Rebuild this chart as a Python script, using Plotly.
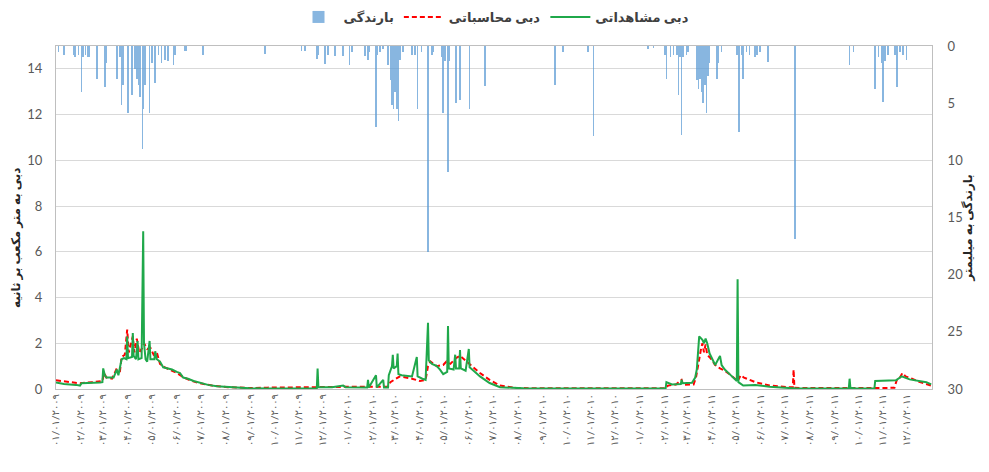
import pandas as pd
import plotly.graph_objects as go

# ---------------- data (day index counted from 2009-01-01) ----------------
obs_day = [0, 10, 25, 30, 32, 45, 55, 58, 59, 61, 63, 72, 76, 78, 82, 85, 88, 89, 90, 95, 96, 97,
           100, 102, 103, 107, 109, 110, 112, 114, 117, 118, 123, 124, 126, 130, 134, 140, 145, 151,
           155, 159, 165, 172, 180, 190, 201, 215, 226, 242, 264, 300, 326, 327, 328, 345, 359, 362,
           389, 390, 391, 400, 401, 409, 410, 415, 416, 420, 421, 422, 426, 427, 428, 432, 445, 451,
           452, 458, 462, 465, 466, 470, 476, 480, 484, 489, 490, 491, 497, 499, 500, 504, 505, 506,
           512, 516, 517, 522, 530, 542, 555, 584, 650, 762, 763, 770, 781, 782, 783, 795, 799, 801,
           804, 808, 810, 812, 814, 817, 824, 828, 830, 832, 836, 842, 851, 852, 853, 859, 874, 892,
           909, 926, 991, 992, 993, 1000, 1023, 1024, 1050, 1057, 1067, 1080, 1088, 1094]
obs_q = [0.28, 0.22, 0.18, 0.15, 0.25, 0.25, 0.28, 0.3, 0.9, 0.6, 0.5, 0.5, 0.85, 0.6, 1.3, 1.35, 1.3, 2.3, 1.35, 1.4, 2.45, 1.45,
         1.3, 2.1, 1.3, 1.35, 6.9, 2.0, 1.3, 1.2, 2.1, 1.3, 1.3, 1.65, 1.3, 1.2, 0.95, 0.9, 0.85, 0.75,
         0.7, 0.5, 0.45, 0.35, 0.27, 0.18, 0.12, 0.08, 0.06, 0.03, 0.02, 0.03, 0.03, 0.9, 0.08, 0.08, 0.15, 0.08,
         0.07, 0.4, 0.07, 0.6, 0.07, 0.4, 0.07, 0.07, 0.6, 1.0, 1.5, 0.9, 1.0, 1.55, 0.65, 0.6, 0.55, 1.4,
         0.55, 0.45, 0.4, 2.9, 1.25, 1.1, 1.0, 0.85, 0.65, 0.75, 2.75, 0.9, 0.85, 1.5, 0.9, 0.9, 1.7, 0.9,
         0.8, 1.75, 0.95, 0.8, 0.55, 0.26, 0.08, 0.03, 0.02, 0.02, 0.3, 0.2, 0.22, 0.4, 0.25, 0.27, 0.5, 0.85,
         2.3, 2.15, 2.0, 2.2, 2.0, 1.55, 1.05, 1.3, 1.45, 1.05, 0.85, 0.65, 0.35, 4.8, 0.3, 0.15, 0.17, 0.1,
         0.07, 0.02, 0.02, 0.45, 0.05, 0.02, 0.02, 0.35, 0.38, 0.55, 0.42, 0.35, 0.3, 0.2]

sim_day = [0, 15, 30, 45, 58, 60, 63, 70, 76, 80, 82, 86, 89, 91, 96, 98, 101, 104, 108, 110, 114,
           118, 122, 126, 130, 136, 142, 151, 160, 170, 180, 195, 215, 245, 264, 300, 327, 345, 380,
           415, 418, 425, 430, 445, 455, 462, 465, 468, 476, 484, 488, 493, 500, 505, 510, 516, 522,
           530, 542, 555, 575, 600, 762, 765, 775, 782, 784, 797, 800, 803, 806, 808, 810, 812, 814,
           818, 824, 830, 836, 842, 852, 856, 860, 874, 892, 915, 921, 922, 923, 940, 1024, 1048,
           1051, 1055, 1058, 1062, 1070, 1080, 1094]
sim_q = [0.38, 0.3, 0.25, 0.3, 0.35, 0.7, 0.5, 0.45, 0.9, 0.8, 1.4, 1.5, 2.6, 1.6, 2.3, 1.6, 2.2, 1.6, 1.8, 2.0, 1.75,
         1.8, 1.5, 1.6, 1.1, 0.95, 0.85, 0.7, 0.5, 0.35, 0.25, 0.15, 0.08, 0.04, 0.06, 0.08, 0.08, 0.1, 0.1,
         0.1, 0.3, 0.45, 0.55, 0.45, 0.35, 0.4, 1.0, 1.2, 1.0, 1.05, 1.2, 1.1, 1.35, 1.45, 1.3, 1.1, 0.9,
         0.7, 0.4, 0.15, 0.05, 0.03, 0.03, 0.15, 0.2, 0.4, 0.18, 0.2, 0.5, 1.2, 1.7, 2.0, 1.6, 1.95, 1.5,
         1.35, 1.05, 0.9, 0.8, 0.65, 0.35, 0.6, 0.5, 0.3, 0.15, 0.08, 0.08, 0.85, 0.05, 0.04, 0.04, 0.05,
         0.4, 0.5, 0.7, 0.55, 0.45, 0.3, 0.15]

rain_day = [3, 10, 22, 24, 28, 32, 34, 37, 40, 42, 51, 61, 63, 76, 80, 82, 84, 90, 95, 99, 101, 103, 105,
            108, 109, 111, 117, 120, 124, 128, 132, 136, 140, 147, 149, 161, 163, 184, 261, 307, 311,
            326, 328, 336, 340, 349, 359, 367, 370, 386, 390, 392, 400, 402, 405, 409, 415, 418, 420,
            422, 424, 426, 428, 430, 434, 445, 449, 452, 457, 465, 470, 472, 482, 484, 486, 490, 492,
            500, 505, 517, 536, 624, 634, 665, 672, 740, 747, 761, 763, 768, 772, 776, 778, 780, 782,
            784, 788, 790, 801, 803, 805, 807, 809, 811, 813, 815, 817, 826, 828, 832, 851, 853, 854,
            857, 859, 863, 867, 874, 876, 880, 890, 924, 992, 997, 1024, 1028, 1032, 1034, 1036, 1040,
            1049, 1051, 1055, 1059, 1063]
rain_mm = [0.5, 0.8, 0.8, 1.0, 0.8, 4.0, 1.0, 0.8, 1.0, 1.0, 2.9, 3.6, 1.5, 2.9, 1.0, 5.2, 3.4, 5.9, 4.3, 2.0, 2.9, 3.4, 4.5,
           9.0, 5.5, 3.4, 5.9, 1.5, 3.2, 0.8, 1.5, 1.2, 1.3, 1.7, 0.8, 0.4, 0.4, 0.8, 0.7, 0.4, 0.4,
           1.1, 0.8, 1.6, 0.8, 0.9, 0.9, 1.7, 0.5, 0.9, 1.2, 0.5, 7.1, 0.8, 0.5, 0.3, 1.7, 3.0, 5.2,
           5.5, 4.0, 5.5, 6.6, 1.2, 0.5, 0.8, 0.8, 5.5, 0.5, 18.0, 0.8, 0.5, 1.0, 5.9, 1.3, 11.0, 1.3,
           5.0, 4.7, 5.5, 3.5, 3.4, 0.5, 0.5, 7.9, 0.3, 0.2, 0.8, 2.9, 1.0, 0.8, 0.8, 4.3, 1.0, 7.8,
           1.0, 0.8, 0.5, 3.0, 3.8, 2.9, 4.0, 5.0, 3.4, 5.9, 2.6, 1.5, 2.9, 1.5, 0.5, 0.8, 4.0, 7.5,
           0.8, 2.9, 0.5, 0.8, 1.0, 0.8, 0.5, 1.4, 16.9, 1.7, 0.5, 3.8, 1.0, 1.5, 4.9, 1.3, 0.8,
           0.8, 3.6, 0.5, 0.8, 1.2]

tick_labels = [
    "۰۱/۰۱/۲۰۰۹", "۰۲/۰۱/۲۰۰۹", "۰۳/۰۱/۲۰۰۹", "۰۴/۰۱/۲۰۰۹", "۰۵/۰۱/۲۰۰۹", "۰۶/۰۱/۲۰۰۹",
    "۰۷/۰۱/۲۰۰۹", "۰۸/۰۱/۲۰۰۹", "۰۹/۰۱/۲۰۰۹", "۱۰/۰۱/۲۰۰۹", "۱۱/۰۱/۲۰۰۹", "۱۲/۰۱/۲۰۰۹",
    "۰۱/۰۱/۲۰۱۰", "۰۲/۰۱/۲۰۱۰", "۰۳/۰۱/۲۰۱۰", "۰۴/۰۱/۲۰۱۰", "۰۵/۰۱/۲۰۱۰", "۰۶/۰۱/۲۰۱۰",
    "۰۷/۰۱/۲۰۱۰", "۰۸/۰۱/۲۰۱۰", "۰۹/۰۱/۲۰۱۰", "۱۰/۰۱/۲۰۱۰", "۱۱/۰۱/۲۰۱۰", "۱۲/۰۱/۲۰۱۰",
    "۰۱/۰۱/۲۰۱۱", "۰۲/۰۱/۲۰۱۱", "۰۳/۰۱/۲۰۱۱", "۰۴/۰۱/۲۰۱۱", "۰۵/۰۱/۲۰۱۱", "۰۶/۰۱/۲۰۱۱",
    "۰۷/۰۱/۲۰۱۱", "۰۸/۰۱/۲۰۱۱", "۰۹/۰۱/۲۰۱۱", "۱۰/۰۱/۲۰۱۱", "۱۱/۰۱/۲۰۱۱", "۱۲/۰۱/۲۰۱۱",
]
y_title_left = "دبی به متر مکعب بر ثانیه"
y_title_right = "بارندگی به میلیمتر"

# ---------------- build ----------------
start = pd.Timestamp("2009-01-01")
to_date = lambda d: [start + pd.Timedelta(days=int(v)) for v in d]
tick_vals = pd.date_range("2009-01-01", periods=len(tick_labels), freq="MS")

FONT = "Lato, 'DejaVu Sans', sans-serif"
GRAY = "#595959"
DARK = "#262626"

# the page body adds an 8 px offset; the figure is sized to fill the rest
W, H = 981, 464
ML, MR, MT, MB = 48, 57, 38, 83
PW, PH = W - ML - MR, H - MT - MB

fig = go.Figure()
fig.add_trace(go.Bar(
    x=to_date(rain_day), y=rain_mm, yaxis="y2", name="بارندگی",
    marker=dict(color="#5B9BD5", line=dict(width=0)),
    width=86400000 * 0.75, opacity=0.72,
))
fig.add_trace(go.Scatter(
    x=to_date(sim_day), y=sim_q, mode="lines", name="دبی محاسباتی",
    line=dict(color="#FF0000", width=2, dash="5px,3px"),
))
fig.add_trace(go.Scatter(
    x=to_date(obs_day), y=obs_q, mode="lines", name="دبی مشاهداتی",
    line=dict(color="#1FA84A", width=2),
))

fig.update_layout(
    width=W, height=H,
    margin=dict(l=ML, r=MR, t=MT, b=MB, autoexpand=False),
    paper_bgcolor="white", plot_bgcolor="white",
    font=dict(family=FONT, color=GRAY, size=13),
    showlegend=True,
    legend=dict(orientation="h", x=0.5, xanchor="center", y=1 + 29 / PH, yanchor="middle",
                font=dict(size=13, color="#404040", family=FONT, weight="bold"), itemwidth=40,
                traceorder="normal"),
    bargap=0,
    xaxis=dict(type="date", range=[start, pd.Timestamp("2012-01-01")],
               tickmode="array", tickvals=tick_vals, ticktext=tick_labels,
               tickangle=-90, tickfont=dict(size=10, color=GRAY),
               showgrid=False, showline=True, linecolor="#BFBFBF", mirror=True,
               zeroline=False, ticks="", automargin=False),
    yaxis=dict(range=[0, 15], dtick=2, tick0=0, showgrid=True, gridcolor="#D9D9D9",
               zeroline=False, showline=True, linecolor="#BFBFBF", ticks="", automargin=False,
               ticklabelstandoff=10, tickfont=dict(size=13, color=GRAY)),
    yaxis2=dict(range=[30, 0], dtick=5, overlaying="y", side="right", showgrid=False,
                zeroline=False, showline=True, linecolor="#BFBFBF", ticks="", automargin=False,
                ticklabelstandoff=12, tickfont=dict(size=13, color=GRAY)),
    annotations=[
        dict(text=y_title_left, xref="paper", yref="paper", x=-41 / PW, y=0.44,
             textangle=-90, showarrow=False, xanchor="center", yanchor="middle",
             font=dict(size=12, color=DARK, family=FONT, weight="bold")),
        dict(text=y_title_right, xref="paper", yref="paper", x=1 + 36 / PW, y=0.47,
             textangle=-90, showarrow=False, xanchor="center", yanchor="middle",
             font=dict(size=12, color=DARK, family=FONT, weight="bold")),
    ],
)

fig.write_html("out.html", config={"displayModeBar": False})
